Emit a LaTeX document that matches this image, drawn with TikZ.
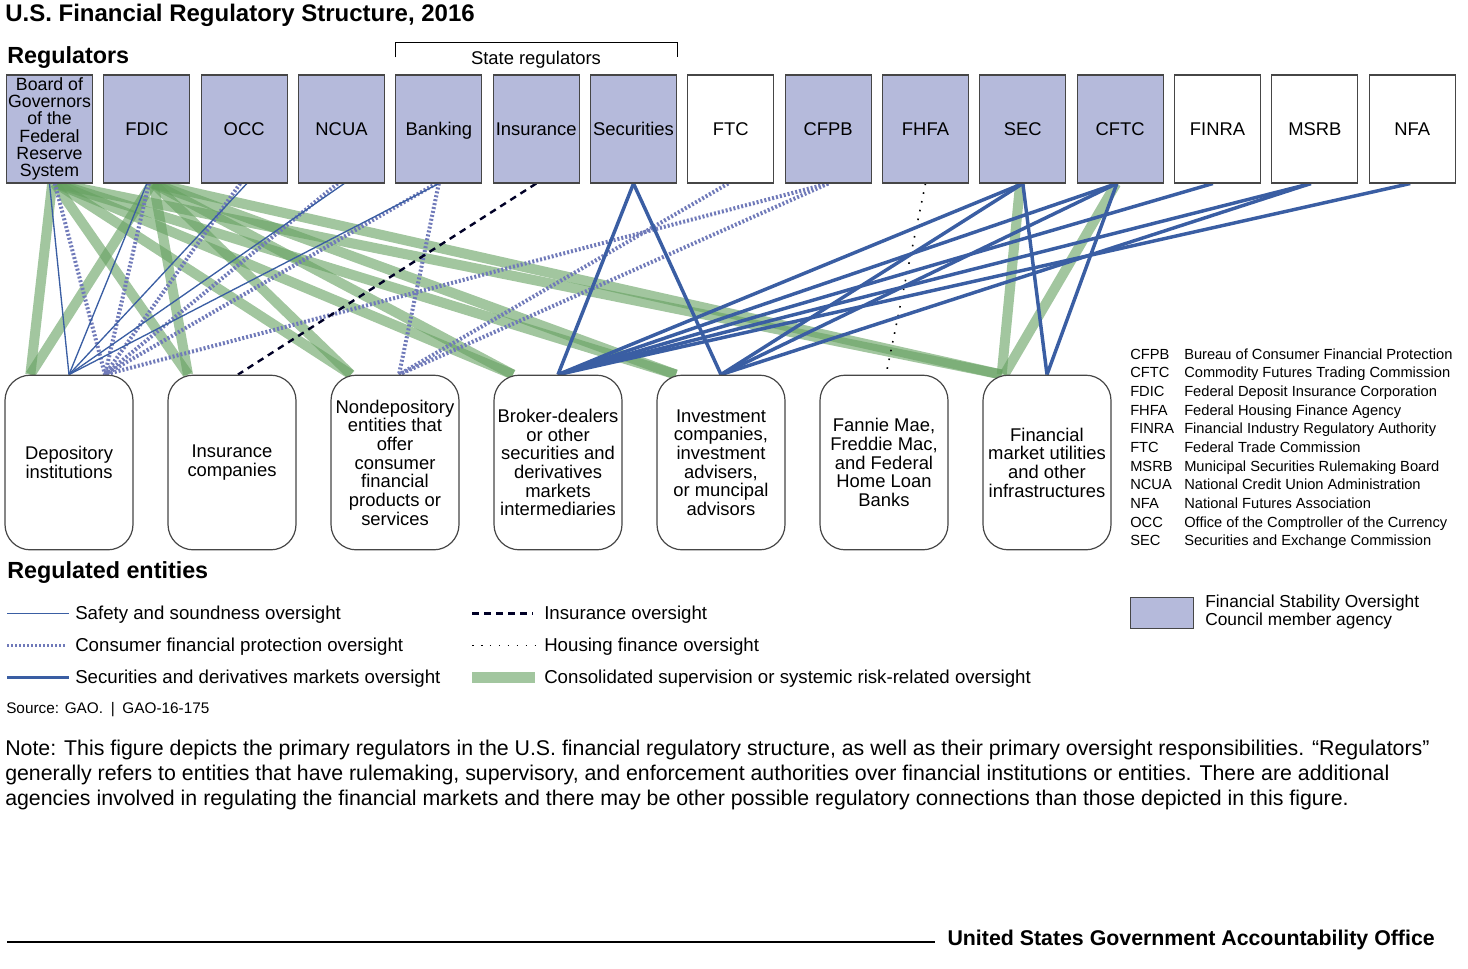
\documentclass[tikz,border=0pt]{standalone}
\usepackage{fontspec}
\setmainfont{Liberation Sans}
\usetikzlibrary{positioning,backgrounds}
\definecolor{fsoc}{RGB}{181,186,219}
\definecolor{secblue}{RGB}{58,94,163}
\definecolor{cfpdot}{RGB}{112,122,185}
\definecolor{consgreen}{RGB}{100,160,95}
\definecolor{boxline}{RGB}{70,70,70}

\begin{document}
\begin{tikzpicture}[x=0.75pt,y=-0.75pt,node distance=7.7pt,
   reg/.style={draw=boxline,line width=0.8pt,fill=fsoc,minimum width=64.5pt,minimum height=81pt,inner sep=0pt,align=center,font=\fontsize{13.8}{15}\selectfont},
   lab/.style={reg,text height=9.9pt,text depth=0.6pt},
   labw/.style={lab,fill=white},
   ent/.style={draw=boxline,line width=0.9pt,rounded corners=19pt,fill=white,minimum width=96pt,minimum height=131pt,inner sep=0pt,align=center,font=\fontsize{13.8}{14}\selectfont},
   safety/.style={draw=secblue,line width=1pt},
   consumer/.style={draw=cfpdot,line width=3pt,dash pattern=on 1.5pt off 1.5pt},
   secline/.style={draw=secblue,line width=2.6pt},
   insline/.style={draw=black!85!blue,line width=1.8pt,dash pattern=on 5pt off 4pt},
   housing/.style={draw=black,line width=1.2pt,dash pattern=on 1.2pt off 5.5pt},
   consol/.style={draw=consgreen,line width=7.5pt,draw opacity=0.6},
   head/.style={anchor=base west,inner sep=0pt,font=\fontsize{17.5}{20}\selectfont\bfseries},
   legtxt/.style={anchor=base west,inner sep=0pt,font=\fontsize{14}{16}\selectfont}]
\useasboundingbox (0,0) rectangle (1468,968);

\node[anchor=base west,inner sep=0pt,font=\fontsize{18}{20}\selectfont\bfseries] (title) at (5,21) {U.S. Financial Regulatory Structure, 2016};
\node[head] (reghead) at (7,63) {Regulators};

\node[reg,font=\fontsize{13.3}{12.9}\selectfont] (frs) at (49.5,129) {Board of\\Governors\\of the\\Federal\\Reserve\\System};
\node[lab,right=of frs] (fdic) {FDIC};
\node[lab,right=of fdic] (occ) {OCC};
\node[lab,right=of occ] (ncua) {NCUA};
\node[lab,right=of ncua] (bank) {Banking};
\node[lab,right=of bank] (insst) {Insurance};
\node[lab,right=of insst] (secst) {Securities};
\node[labw,right=of secst] (ftc) {FTC};
\node[lab,right=of ftc] (cfpb) {CFPB};
\node[lab,right=of cfpb] (fhfa) {FHFA};
\node[lab,right=of fhfa] (sec) {SEC};
\node[lab,right=of sec] (cftc) {CFTC};
\node[labw,right=of cftc] (finra) {FINRA};
\node[labw,right=of finra] (msrb) {MSRB};
\node[labw,right=of msrb] (nfa) {NFA};

\draw[line width=0.8pt] ([yshift=12.75pt]bank.north west) |- ([yshift=24pt]bank.north west -| secst.north east) -- ([yshift=12.75pt]secst.north east);
\node[anchor=base,inner sep=0pt,font=\fontsize{13.8}{15}\selectfont] (statelab) at (536,64) {State regulators};

\node[ent] (dep) at (69,462.5) {Depository\\institutions};
\node[ent,right=25.35pt of dep] (insco) {Insurance\\companies};
\node[ent,right=25.35pt of insco] (nondep) {Nondepository\\entities that\\offer\\consumer\\financial\\products or\\services};
\node[ent,right=25.35pt of nondep] (broker) {Broker-dealers\\or other\\securities and\\derivatives\\markets\\intermediaries};
\node[ent,right=25.35pt of broker] (invest) {Investment\\companies,\\investment\\advisers,\\or muncipal\\advisors};
\node[ent,right=25.35pt of invest] (fannie) {Fannie Mae,\\Freddie Mac,\\and Federal\\Home Loan\\Banks};
\node[ent,right=25.35pt of fannie] (fmu) {Financial\\market utilities\\and other\\infrastructures};
\node[head] (enthead) at (7,578) {Regulated entities};

\begin{pgfonlayer}{background}
\draw[consol] ([xshift=2pt]frs.south) -- ([xshift=-29pt]dep.north);
\draw[consol] ([xshift=4pt]fdic.south) -- ([xshift=-29pt]dep.north);
\draw[consol] ([xshift=4pt]frs.south) -- ([xshift=-33pt]insco.north);
\draw[consol] ([xshift=5pt]fdic.south) -- ([xshift=-33pt]insco.north);
\draw[consol] ([xshift=5pt]frs.south) -- ([xshift=-33pt]nondep.north);
\draw[consol] ([xshift=5pt]fdic.south) -- ([xshift=-33pt]nondep.north);
\draw[consol] ([xshift=5pt]frs.south) -- ([xshift=-33.75pt]broker.north);
\draw[consol] ([xshift=5pt]fdic.south) -- ([xshift=-33.75pt]broker.north);
\draw[consol] ([xshift=5pt]frs.south) -- ([xshift=-33.75pt]invest.north);
\draw[consol] ([xshift=5pt]fdic.south) -- ([xshift=-33.75pt]invest.north);
\draw[consol] ([xshift=5pt]frs.south) -- ([xshift=-34pt]fmu.north);
\draw[consol] ([xshift=5pt]fdic.south) -- ([xshift=-34pt]fmu.north);
\draw[consol] ([xshift=-2pt]sec.south) -- ([xshift=-34pt]fmu.north);
\draw[consol] ([xshift=-3pt]cftc.south) -- ([xshift=-32pt]fmu.north);

\draw[consumer] ([xshift=4pt]frs.south) -- ([xshift=27pt]dep.north);
\draw[consumer] ([xshift=1.5pt]fdic.south) -- ([xshift=27pt]dep.north);
\draw[consumer] ([xshift=-3pt]occ.south) -- ([xshift=27pt]dep.north);
\draw[consumer] ([xshift=-3pt]ncua.south) -- ([xshift=27pt]dep.north);
\draw[consumer] ([xshift=-2pt]bank.south) -- ([xshift=27pt]dep.north);
\draw[consumer] (cfpb.south) -- ([xshift=27pt]dep.north);
\draw[consumer] (bank.south) -- ([xshift=3pt]nondep.north);
\draw[consumer] ([xshift=-2pt]ftc.south) -- ([xshift=3pt]nondep.north);
\draw[consumer] (cfpb.south) -- ([xshift=3pt]nondep.north);

\draw[safety] (frs.south) -- (dep.north);
\draw[safety] (fdic.south) -- (dep.north);
\draw[safety] ([xshift=2pt]occ.south) -- (dep.north);
\draw[safety] ([xshift=2pt]ncua.south) -- (dep.north);
\draw[safety] (bank.south) -- (dep.north);

\draw[insline] (insst.south) -- ([xshift=4.5pt]insco.north);
\draw[housing] (fhfa.south) -- ([xshift=1.5pt]fannie.north);

\draw[secline] (secst.south) -- (broker.north);
\draw[secline] (secst.south) -- (invest.north);
\draw[secline] (sec.south) -- (broker.north);
\draw[secline] (sec.south) -- (invest.north);
\draw[secline] (sec.south) -- (fmu.north);
\draw[secline] ([xshift=-2.5pt]cftc.south) -- (broker.north);
\draw[secline] ([xshift=-2.5pt]cftc.south) -- (invest.north);
\draw[secline] ([xshift=-2.5pt]cftc.south) -- (fmu.north);
\draw[secline] ([xshift=-3.5pt]finra.south) -- (broker.north);
\draw[secline] ([xshift=-3pt]msrb.south) -- (broker.north);
\draw[secline] ([xshift=-3pt]msrb.south) -- (invest.north);
\draw[secline] ([xshift=-1.5pt]nfa.south) -- (broker.north);
\end{pgfonlayer}

\node[anchor=base west,inner sep=0pt,font=\fontsize{11}{14}\selectfont] (abbr) at (1130,359) {\begin{tabular}[t]{@{}p{40.5pt}@{}l@{}}
CFPB & Bureau of Consumer Financial Protection\\
CFTC & Commodity Futures Trading Commission\\
FDIC & Federal Deposit Insurance Corporation\\
FHFA & Federal Housing Finance Agency\\
FINRA & Financial Industry Regulatory Authority\\
FTC & Federal Trade Commission\\
MSRB & Municipal Securities Rulemaking Board\\
NCUA & National Credit Union Administration\\
NFA & National Futures Association\\
OCC & Office of the Comptroller of the Currency\\
SEC & Securities and Exchange Commission
\end{tabular}};

\node[legtxt] (lsafe) at (75,619) {Safety and soundness oversight};
\node[legtxt] (lcons) at (75,651) {Consumer financial protection oversight};
\node[legtxt] (lsec) at (75,683) {Securities and derivatives markets oversight};
\node[legtxt] (lins) at (544,619) {Insurance oversight};
\node[legtxt] (lhouse) at (544,651) {Housing finance oversight};
\node[legtxt] (lconsol) at (544,683) {Consolidated supervision or systemic risk-related oversight};
\draw[safety] ([shift={(-51pt,4pt)}]lsafe.base west) -- ([shift={(-4.5pt,4pt)}]lsafe.base west);
\draw[consumer,line width=2.5pt] ([shift={(-51pt,4pt)}]lcons.base west) -- ([shift={(-6pt,4pt)}]lcons.base west);
\draw[secline] ([shift={(-51pt,4pt)}]lsec.base west) -- ([shift={(-4.5pt,4pt)}]lsec.base west);
\draw[insline] ([shift={(-54pt,4pt)}]lins.base west) -- ([shift={(-8pt,4pt)}]lins.base west);
\draw[housing] ([shift={(-54pt,4pt)}]lhouse.base west) -- ([shift={(-6pt,4pt)}]lhouse.base west);
\draw[consol,line width=8pt] ([shift={(-54pt,4pt)}]lconsol.base west) -- ([shift={(-7pt,4pt)}]lconsol.base west);

\node[draw=boxline,line width=0.8pt,fill=fsoc,minimum width=47pt,minimum height=23pt,inner sep=0pt,anchor=north west] (fsocbox) at (1130,597) {};
\node[anchor=west,inner sep=0pt,align=left,font=\fontsize{13}{13.5}\selectfont] (fsoctxt) at (1205,612) {Financial Stability Oversight\\Council member agency};

\node[anchor=base west,inner sep=0pt,font=\fontsize{11.5}{13}\selectfont] (src) at (6,713) {Source: GAO.\enspace|\enspace GAO-16-175};

\node[anchor=north west,inner sep=0pt,align=left,font=\fontsize{16}{18.75}\selectfont] (note) at (5,740) {Note: This figure depicts the primary regulators in the U.S. financial regulatory structure, as well as their primary oversight responsibilities. “Regulators”\\generally refers to entities that have rulemaking, supervisory, and enforcement authorities over financial institutions or entities. There are additional\\agencies involved in regulating the financial markets and there may be other possible regulatory connections than those depicted in this figure.};

\node[anchor=base east,inner sep=0pt,font=\fontsize{16}{18}\selectfont\bfseries] (gao) at (1435,945) {United States Government Accountability Office};
\draw[line width=0.8pt] (7,942) -- (935,942);
\end{tikzpicture}
\end{document}
